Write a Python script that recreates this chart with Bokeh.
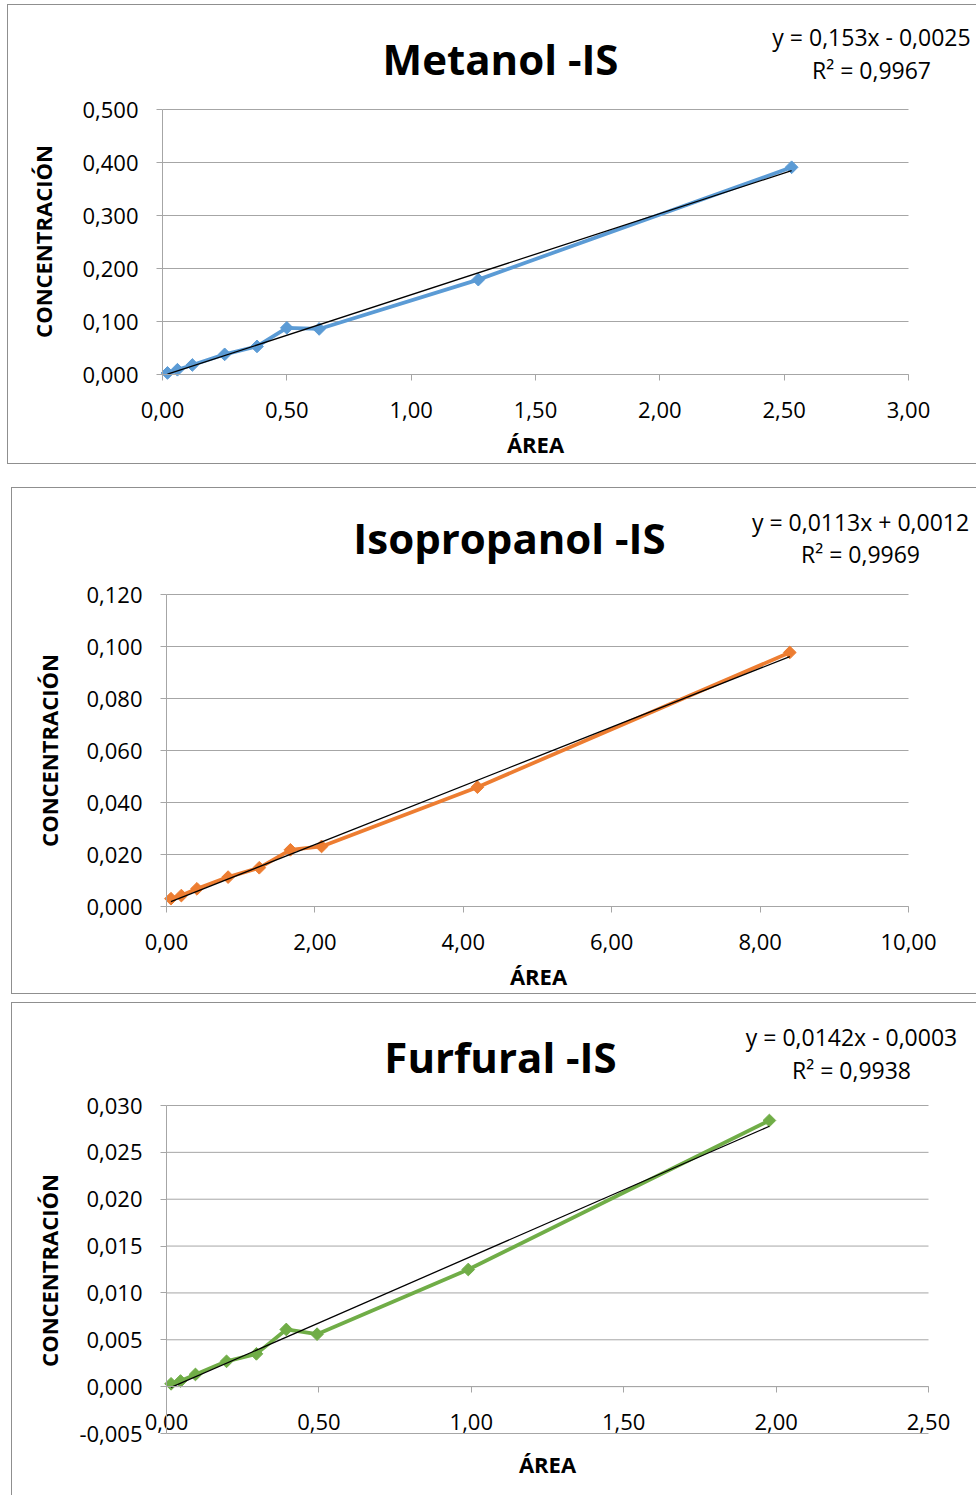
import math
from bokeh.plotting import figure
from bokeh.models import Range1d, FixedTicker, LinearAxis, Label, Spacer
from bokeh.layouts import column, row
from bokeh.embed import file_html
from bokeh.resources import INLINE

# ---------------- data ----------------
metanol_area = [0.02, 0.06, 0.12, 0.25, 0.38, 0.50, 0.63, 1.27, 2.53]
metanol_conc = [0.003, 0.009, 0.018, 0.038, 0.053, 0.088, 0.086, 0.179, 0.391]
metanol_fit = (0.153, -0.0025)
metanol_eq = ["y = 0,153x - 0,0025", "R² = 0,9967"]

isoprop_area = [0.06, 0.20, 0.41, 0.83, 1.25, 1.67, 2.09, 4.19, 8.40]
isoprop_conc = [0.0030, 0.0042, 0.0068, 0.0113, 0.0149, 0.0218, 0.0231, 0.0459, 0.0977]
isoprop_fit = (0.0113, 0.0012)
isoprop_eq = ["y = 0,0113x + 0,0012", "R² = 0,9969"]

furfural_area = [0.015, 0.046, 0.095, 0.197, 0.295, 0.393, 0.494, 0.990, 1.978]
furfural_conc = [0.0003, 0.0006, 0.0013, 0.0027, 0.0035, 0.0061, 0.0056, 0.0125, 0.0284]
furfural_fit = (0.0142, -0.0003)
furfural_eq = ["y = 0,0142x - 0,0003", "R² = 0,9938"]

x_ticks_1 = [0.0, 0.5, 1.0, 1.5, 2.0, 2.5, 3.0]
x_labels_1 = ["0,00", "0,50", "1,00", "1,50", "2,00", "2,50", "3,00"]
y_ticks_1 = [0.0, 0.1, 0.2, 0.3, 0.4, 0.5]
y_labels_1 = ["0,000", "0,100", "0,200", "0,300", "0,400", "0,500"]

x_ticks_2 = [0.0, 2.0, 4.0, 6.0, 8.0, 10.0]
x_labels_2 = ["0,00", "2,00", "4,00", "6,00", "8,00", "10,00"]
y_ticks_2 = [0.0, 0.02, 0.04, 0.06, 0.08, 0.1, 0.12]
y_labels_2 = ["0,000", "0,020", "0,040", "0,060", "0,080", "0,100", "0,120"]

x_ticks_3 = [0.0, 0.5, 1.0, 1.5, 2.0, 2.5]
x_labels_3 = ["0,00", "0,50", "1,00", "1,50", "2,00", "2,50"]
y_ticks_3 = [-0.005, 0.0, 0.005, 0.01, 0.015, 0.02, 0.025, 0.03]
y_labels_3 = ["-0,005", "0,000", "0,005", "0,010", "0,015", "0,020", "0,025", "0,030"]

x_title = "ÁREA"
y_title = "CONCENTRACIÓN"

FONT = "Open Sans"
GRID = "#a6a6a6"
BORDER = "#8f8f8f"


def make_chart(title, xs, ys, fit, eq, color, xt, xl, yt, yl, geo):
    # geo: page-pixel layout of the chart box and of its axes
    fx, fy, w, h = geo["box"]
    ax_x0, ax_x1 = geo["xaxis_px"]      # pixel of first / last x tick
    ax_y0, ax_y1 = geo["yaxis_px"]      # pixel of first / last y tick
    ppx = (ax_x1 - ax_x0) / (xt[-1] - xt[0])
    ppy = (ax_y0 - ax_y1) / (yt[-1] - yt[0])
    xr = Range1d(xt[0] - (ax_x0 - fx) / ppx, xt[0] + (fx + w - ax_x0) / ppx)
    yr = Range1d(yt[0] - (fy + h - ax_y0) / ppy, yt[0] + (ax_y0 - fy) / ppy)

    def dx(px):
        return xt[0] + (px - ax_x0) / ppx

    def dy(py):
        return yt[0] + (ax_y0 - py) / ppy

    p = figure(width=w, height=h, output_backend="svg",
               toolbar_location=None, x_axis_type=None, y_axis_type=None,
               x_range=xr, y_range=yr, min_border=0,
               min_border_left=0, min_border_right=0,
               min_border_top=0, min_border_bottom=0)
    p.outline_line_color = None
    p.xgrid.visible = False
    p.ygrid.visible = False
    p.styles = {"outline": "1px solid " + BORDER}

    xaxis = LinearAxis(ticker=FixedTicker(ticks=xt),
                       major_label_overrides=dict(zip(xt, xl)),
                       bounds=(xt[0], xt[-1]), fixed_location=geo["x_cross"])
    yaxis = LinearAxis(ticker=FixedTicker(ticks=yt),
                       major_label_overrides=dict(zip(yt, yl)),
                       bounds=(yt[0], yt[-1]), fixed_location=xt[0])
    for ax in (xaxis, yaxis):
        ax.axis_line_color = GRID
        ax.major_tick_line_color = GRID
        ax.major_tick_out = 6
        ax.major_tick_in = 0
        ax.minor_tick_line_color = None
        ax.major_label_text_font = FONT
        ax.major_label_text_font_size = "22px"
        ax.major_label_text_color = "#000000"
    yaxis.major_label_standoff = 18
    xaxis.major_label_standoff = 21
    p.add_layout(xaxis, "below")
    p.add_layout(yaxis, "left")

    # horizontal gridlines at the y ticks, spanning the x-axis extent
    p.segment(x0=[xt[0]] * len(yt), x1=[xt[-1]] * len(yt), y0=yt, y1=yt,
              line_color=GRID, line_width=1)

    p.line(xs, ys, line_color=color, line_width=3.75)
    p.scatter(xs, ys, marker="square", angle=math.pi / 4, size=9,
              fill_color=color, line_color=color)
    x0, x1 = min(xs), max(xs)
    p.line([x0, x1], [fit[0] * x0 + fit[1], fit[0] * x1 + fit[1]],
           line_color="#000000", line_width=1.3)

    tx, ty = geo["title_px"]
    p.add_layout(Label(x=dx(tx), y=dy(ty), text=title, text_font=FONT,
                       text_font_size="42px", text_font_style="bold",
                       text_align="center", text_baseline="middle",
                       text_color="#000000"))
    ex, ey1, ey2 = geo["eq_px"]
    for txt, ey in ((eq[0], ey1), (eq[1], ey2)):
        p.add_layout(Label(x=dx(ex), y=dy(ey), text=txt, text_font=FONT,
                           text_font_size="23px", text_align="center",
                           text_baseline="middle", text_color="#000000"))
    axx, axy = geo["xtitle_px"]
    p.add_layout(Label(x=dx(axx), y=dy(axy), text=x_title, text_font=FONT,
                       text_font_size="22px", text_font_style="bold",
                       text_align="center", text_baseline="middle",
                       text_color="#000000"))
    ayx, ayy = geo["ytitle_px"]
    p.add_layout(Label(x=dx(ayx), y=dy(ayy), text=y_title, text_font=FONT,
                       text_font_size="22px", text_font_style="bold",
                       text_align="center", text_baseline="middle",
                       angle=math.pi / 2, text_color="#000000"))
    return p


geo1 = dict(box=(8, 5, 968, 458), xaxis_px=(162, 908), yaxis_px=(374, 109),
            x_cross=0.0, title_px=(500, 58), eq_px=(871, 36, 69),
            xtitle_px=(535, 443), ytitle_px=(42, 241))
geo2 = dict(box=(12, 488, 964, 505), xaxis_px=(166, 908), yaxis_px=(906, 594),
            x_cross=0.0, title_px=(509, 537), eq_px=(860, 521, 553),
            xtitle_px=(538, 975), ytitle_px=(48, 750))
geo3 = dict(box=(12, 1003, 964, 492), xaxis_px=(166, 928), yaxis_px=(1433, 1105),
            x_cross=0.0, title_px=(500, 1056), eq_px=(851, 1036, 1069),
            xtitle_px=(547, 1463), ytitle_px=(48, 1270))

p1 = make_chart("Metanol -IS", metanol_area, metanol_conc, metanol_fit,
                metanol_eq, "#5b9bd5", x_ticks_1, x_labels_1, y_ticks_1,
                y_labels_1, geo1)
p2 = make_chart("Isopropanol -IS", isoprop_area, isoprop_conc, isoprop_fit,
                isoprop_eq, "#ed7d31", x_ticks_2, x_labels_2, y_ticks_2,
                y_labels_2, geo2)
p3 = make_chart("Furfural -IS", furfural_area, furfural_conc, furfural_fit,
                furfural_eq, "#70ad47", x_ticks_3, x_labels_3, y_ticks_3,
                y_labels_3, geo3)

layout = column(Spacer(height=5), row(Spacer(width=8), p1),
                Spacer(height=25), row(Spacer(width=12), p2),
                Spacer(height=10), row(Spacer(width=12), p3))

open("out.html", "w").write(file_html(layout, INLINE))
